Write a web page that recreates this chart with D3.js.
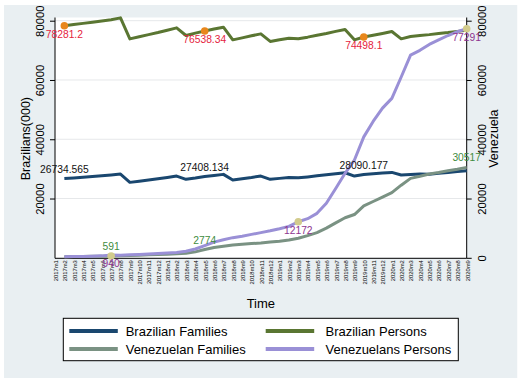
<!DOCTYPE html>
<html>
<head>
<meta charset="utf-8">
<script src="https://cdn.jsdelivr.net/npm/d3@7"></script>
<style>
  body { margin: 0; background: #fff; }
  svg { display: block; font-family: "Liberation Sans", Arial, sans-serif; }
</style>
</head>
<body>
<svg id="chart" width="523" height="385"></svg>
<script>
// x axis labels, 2017m1 .. 2020m9 (data starts at 2017m2)
const months = [
  '2017m1','2017m2','2017m3','2017m4','2017m5','2017m6','2017m7','2017m8','2017m9','2017m10','2017m11','2017m12',
  '2018m1','2018m2','2018m3','2018m4','2018m5','2018m6','2018m7','2018m8','2018m9','2018m10','2018m11','2018m12',
  '2019m1','2019m2','2019m3','2019m4','2019m5','2019m6','2019m7','2019m8','2019m9','2019m10','2019m11','2019m12',
  '2020m1','2020m2','2020m3','2020m4','2020m5','2020m6','2020m7','2020m8','2020m9'
];
const dataMonths = months.slice(1);

const brFamilies = [26734.565, 26950, 27200, 27450, 27700, 27950, 28250, 25450, 25850, 26250, 26650, 27100,
  27580, 26470, 26900, 27408.134, 27750, 28150, 26230, 26700, 27100, 27580, 26470, 26800, 27100, 27000,
  27300, 27650, 28000, 28350, 28700, 27580, 28090.177, 28350, 28600, 28820, 27920, 28100, 28300, 28200,
  28500, 28800, 29100, 29400];
const brPersons = [78281.2, 78700, 79100, 79500, 79900, 80300, 80950, 73870, 74600, 75300, 76000, 76800,
  77580, 75000, 75800, 76538.34, 77200, 77800, 73540, 74200, 74900, 75560, 73000, 73600, 74100, 73900,
  74450, 75100, 75700, 76400, 77040, 73540, 74498.1, 75100, 75700, 76360, 73870, 74680, 75000, 75300,
  75700, 76000, 76400, 76800];
const veFamilies = [370, 420, 480, 520, 560, 591, 700, 800, 900, 1000, 1100, 1200, 1350, 1500, 2000, 2774,
  3500, 3900, 4300, 4550, 4800, 5000, 5300, 5600, 6000, 6600, 7500, 8500, 10000, 11800, 13500, 14600,
  17500, 19000, 20500, 22000, 24500, 26800, 27500, 28300, 28800, 29400, 29900, 30517];
const vePersons = [370, 420, 480, 560, 650, 940, 850, 1000, 1150, 1300, 1450, 1600, 1800, 2200, 2970, 4100,
  5300, 6100, 6800, 7300, 7900, 8500, 9100, 9800, 10600, 12172, 13200, 15000, 18400, 23400, 28500, 33000,
  40800, 46000, 50500, 53800, 61000, 68400, 70000, 72000, 73500, 75000, 76300, 77291];

const leftTicks = [20000, 40000, 60000, 80000];
const rightTicks = [0, 20000, 40000, 60000, 80000];

// months that carry a value label / a marker dot
const brFamiliesLabelled = ['2017m2', '2018m5', '2019m10'];
const brPersonsLabelled = ['2017m2', '2018m5', '2019m10'];
const veFamiliesLabelled = ['2017m7', '2018m5', '2020m9'];
const vePersonsLabelled = ['2017m7', '2019m3', '2020m9'];
const brPersonsDots = ['2017m2', '2018m5', '2019m10'];
const veFamiliesDots = ['2017m7'];
const vePersonsDots = ['2019m3', '2020m9'];

const series = [
  { name: 'Brazilian Families', values: brFamilies, color: '#1a476f', label: brFamiliesLabelled, labelColor: '#111', below: false },
  { name: 'Brazilian Persons', values: brPersons, color: '#5a7632', label: brPersonsLabelled, labelColor: '#e5233d', below: true },
  { name: 'Venezuelan Families', values: veFamilies, color: '#7a9283', label: veFamiliesLabelled, labelColor: '#3f8c3f', below: false },
  { name: 'Venezuelans Persons', values: vePersons, color: '#9a90d6', label: vePersonsLabelled, labelColor: '#8e3590', below: true }
];

const svg = d3.select('#chart');
const plotL = 55, plotR = 466.7, plotT = 17.5, plotB = 257.8;

const x = d3.scalePoint().domain(months).range([plotL, plotR]);
const y = d3.scaleLinear().domain([0, 80000]).range([plotB, 20.7]);

svg.append('defs').append('clipPath').attr('id', 'outer')
  .append('rect').attr('x', 4).attr('y', 5).attr('width', 513.5).attr('height', 373);

const g = svg.append('g').attr('clip-path', 'url(#outer)');

// graph region + plot region
g.append('rect').attr('x', 4).attr('y', 5).attr('width', 513.5).attr('height', 373).attr('fill', '#e9eff2');
g.append('rect').attr('x', plotL).attr('y', plotT).attr('width', plotR - plotL).attr('height', plotB - plotT).attr('fill', '#fff');

// gridlines
g.append('g').selectAll('line').data(leftTicks).enter().append('line')
  .attr('x1', plotL).attr('x2', plotR)
  .attr('y1', d => y(d)).attr('y2', d => y(d))
  .style('stroke', '#e6e8ea').style('stroke-width', 1);

// left axis
const axL = g.append('g').attr('transform', `translate(${plotL},0)`)
  .call(d3.axisLeft(y).tickValues(leftTicks).tickSize(5).tickSizeOuter(0).tickFormat(d3.format('d')));
axL.select('.domain').remove();
axL.selectAll('text').attr('x', 0).attr('dy', 0).attr('text-anchor', 'middle')
  .attr('transform', 'translate(-11,0) rotate(-90)')
  .style('font-size', '11.3px').attr('fill', '#000');

// right axis
const axR = g.append('g').attr('transform', `translate(${plotR},0)`)
  .call(d3.axisRight(y).tickValues(rightTicks).tickSize(5).tickSizeOuter(0).tickFormat(d3.format('d')));
axR.select('.domain').remove();
axR.selectAll('text').attr('x', 0).attr('dy', 0).attr('text-anchor', 'middle')
  .attr('transform', 'translate(19.3,0) rotate(-90)')
  .style('font-size', '11.3px').attr('fill', '#000');

// bottom axis labels
const axB = g.append('g').attr('transform', `translate(0,${plotB})`)
  .call(d3.axisBottom(x).tickSize(0));
axB.select('.domain').remove();
axB.selectAll('text').attr('x', 0).attr('y', 0).attr('dy', 0).attr('text-anchor', 'end')
  .attr('transform', 'translate(2.3,2.5) rotate(-90)')
  .style('font-size', '5.8px').attr('fill', '#000');

// axis lines
g.append('line').attr('x1', plotL).attr('x2', plotL).attr('y1', plotT).attr('y2', plotB + 0.5)
  .style('stroke', '#000').style('stroke-width', 1);
g.append('line').attr('x1', plotR).attr('x2', plotR).attr('y1', plotT).attr('y2', plotB + 0.5)
  .style('stroke', '#000').style('stroke-width', 1);
g.append('line').attr('x1', plotL).attr('x2', plotR).attr('y1', plotB + 0.5).attr('y2', plotB + 0.5)
  .style('stroke', '#000').style('stroke-width', 1);

// axis titles
g.append('text').attr('transform', `translate(29.5,${(plotT + plotB) / 2 + 1}) rotate(-90)`)
  .attr('text-anchor', 'middle').style('font-size', '12.5px').text('Brazilians(000)');
g.append('text').attr('transform', `translate(498,${(plotT + plotB) / 2 + 1}) rotate(-90)`)
  .attr('text-anchor', 'middle').style('font-size', '12.5px').text('Venezuela');
g.append('text').attr('x', (plotL + plotR) / 2).attr('y', 307.5)
  .attr('text-anchor', 'middle').style('font-size', '13px').text('Time');

// lines
const line = d3.line().x((d, i) => x(dataMonths[i])).y(d => y(d));
g.append('g').selectAll('path').data(series).enter().append('path')
  .attr('d', s => line(s.values))
  .attr('fill', 'none')
  .style('stroke', s => s.color)
  .style('stroke-width', 3)
  .style('stroke-linejoin', 'round');

// marker dots
const valueAt = (s, m) => s.values[dataMonths.indexOf(m)];
const dots = [
  { s: series[1], months: brPersonsDots, fill: '#e8871c' },
  { s: series[2], months: veFamiliesDots, fill: '#d2cb8c' },
  { s: series[3], months: vePersonsDots, fill: '#d2cb8c' }
];
dots.forEach(d => {
  g.append('g').selectAll('circle').data(d.months).enter().append('circle')
    .attr('cx', m => x(m)).attr('cy', m => y(valueAt(d.s, m)))
    .attr('r', 3.8).attr('fill', d.fill);
});

// value labels
series.forEach(s => {
  g.append('g').selectAll('text').data(s.label).enter().append('text')
    .attr('x', m => x(m))
    .attr('y', m => y(valueAt(s, m)) + (s.below ? 12 : -6))
    .attr('text-anchor', 'middle')
    .style('font-size', '10.3px')
    .attr('fill', s.labelColor)
    .text(m => String(valueAt(s, m)));
});

// legend
const lg = g.append('g');
lg.append('rect').attr('x', 63.3).attr('y', 318.3).attr('width', 395).attr('height', 42.4)
  .attr('fill', '#fff').style('stroke', '#000').style('stroke-width', 1);
const keyX = [69.3, 265.7], textX = [125.7, 325.5], rowY = [331, 349];
const keys = lg.selectAll('g.key').data(series).enter().append('g').classed('key', true);
keys.append('line')
  .attr('x1', (s, i) => keyX[i % 2]).attr('x2', (s, i) => keyX[i % 2] + 48.5)
  .attr('y1', (s, i) => rowY[Math.floor(i / 2)]).attr('y2', (s, i) => rowY[Math.floor(i / 2)])
  .style('stroke', s => s.color).style('stroke-width', 4);
keys.append('text')
  .attr('x', (s, i) => textX[i % 2])
  .attr('y', (s, i) => rowY[Math.floor(i / 2)] + 4.6)
  .style('font-size', '13px')
  .text(s => s.name);
</script>
</body>
</html>
